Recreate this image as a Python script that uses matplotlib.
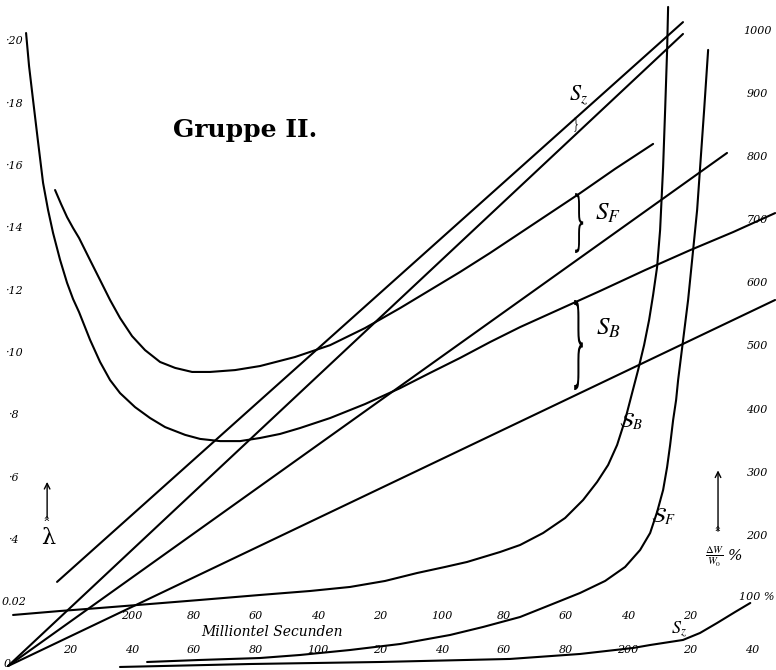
import matplotlib
matplotlib.use("Agg")
import matplotlib.pyplot as plt
from matplotlib.textpath import TextPath
from matplotlib.patches import PathPatch
from matplotlib.font_manager import FontProperties
from matplotlib.transforms import Affine2D

plt.rcParams["mathtext.fontset"] = "stix"

# time axis in millionths of a second, left scale lambda, right scale dW/W0 in %

# lambda curves (U shaped)
u1_t = [5.81, 6.77, 8.06, 9.68, 11.29, 12.90, 14.52, 16.77, 19.03, 20.97, 22.90, 26.45,
        29.68, 32.90, 36.13, 40.97, 45.81, 50.65, 57.10, 61.94, 68.39, 74.84, 81.29,
        87.74, 94.19, 103.87, 115.16, 126.45, 136.13, 145.81, 155.48, 165.16, 178.06,
        190.97, 205.48, 220.0, 233.87, 247.42]
u1_lam = [0.2032, 0.1926, 0.1817, 0.1682, 0.1551, 0.1464, 0.1390, 0.1304, 0.1230, 0.1178,
          0.1136, 0.1047, 0.0976, 0.0918, 0.0876, 0.0831, 0.0796, 0.0767, 0.0742, 0.0729,
          0.0722, 0.0722, 0.0732, 0.0745, 0.0764, 0.0796, 0.0841, 0.0892, 0.0941, 0.0989,
          0.1040, 0.1088, 0.1146, 0.1204, 0.1271, 0.1335, 0.1393, 0.1454]
u2_t = [15.16, 17.10, 19.03, 20.97, 22.90, 26.45, 29.68, 32.90, 36.13, 40.0, 44.19, 49.03,
        53.87, 59.35, 65.16, 73.23, 81.29, 92.58, 103.87, 115.16, 126.45, 136.13, 145.81,
        155.48, 165.16, 174.84, 184.52, 195.81, 208.06]
u2_lam = [0.1528, 0.1483, 0.1441, 0.1406, 0.1374, 0.1303, 0.1239, 0.1175, 0.1117, 0.1059,
          0.1014, 0.0976, 0.0957, 0.0944, 0.0944, 0.0950, 0.0963, 0.0992, 0.1030, 0.1085,
          0.1149, 0.1207, 0.1265, 0.1326, 0.1390, 0.1454, 0.1518, 0.1596, 0.1676]

# straight lambda lines
line_a_t = [15.8, 217.7]
line_a_lam = [0.0270, 0.2067]
line_b_t = [0.0, 217.7]
line_b_lam = [0.0, 0.2029]
line_c_t = [0.0, 231.9]
line_c_lam = [0.0, 0.1647]
line_d_t = [0.0, 247.4]
line_d_lam = [0.0, 0.1175]

# dW/W0 curves
sb_t = [1.61, 16.77, 29.68, 45.81, 61.94, 81.29, 97.42, 110.32, 121.61, 131.94, 140.97,
        148.06, 158.71, 165.16, 172.58, 179.68, 185.48, 190.0, 193.55, 196.45, 199.03,
        201.29, 203.23, 205.16, 206.77, 208.06, 209.35, 210.32, 211.29, 211.94, 212.58,
        212.90]
sb_w = [74.5, 80.8, 85.6, 91.9, 98.3, 106.2, 112.5, 118.9, 128.4, 141.0, 150.6, 158.5,
        174.3, 185.4, 204.4, 228.2, 256.7, 285.3, 312.2, 343.9, 383.5, 426.3, 462.8,
        502.4, 542.0, 581.6, 626.0, 684.6, 784.5, 874.8, 969.9, 1038.0]
sf_t = [44.84, 61.94, 81.29, 94.19, 110.32, 126.45, 142.58, 153.23, 165.16, 174.84, 184.52,
        192.58, 199.03, 203.87, 207.10, 209.35, 211.29, 212.58, 213.55, 214.52, 215.48,
        216.13, 217.74, 219.35, 220.97, 222.26, 223.23, 224.52, 225.81]
sf_w = [0.0, 3.2, 6.3, 11.1, 19.0, 28.5, 42.8, 55.5, 71.3, 90.3, 109.4, 128.4, 150.6,
        177.5, 204.4, 237.7, 272.6, 309.0, 343.9, 383.5, 415.2, 446.9, 510.3, 573.7,
        652.9, 716.3, 784.5, 874.8, 969.9]
sz_t = [36.1, 78.1, 120.0, 161.9, 184.5, 201.6, 207.1, 217.7, 223.2, 228.7, 234.5, 239.4]
sz_w = [-7.9, -3.2, 0.0, 4.8, 12.7, 22.2, 26.9, 34.9, 46.0, 61.8, 79.2, 93.5]

# tick labels
lam_ticks = [0.20, 0.18, 0.16, 0.14, 0.12, 0.10, 0.08, 0.06, 0.04, 0.02, 0.0]
lam_labels = ["·20", "·18", "·16", "·14", "·12", "·10", "·8", "·6", "·4", "0.02", "0"]
w_ticks = [1000, 900, 800, 700, 600, 500, 400, 300, 200]
w_labels = ["1000", "900", "800", "700", "600", "500", "400", "300", "200"]
low_ticks = [20, 40, 60, 80, 100, 120, 140, 160, 180, 200, 220, 240]
low_labels = ["20", "40", "60", "80", "100", "20", "40", "60", "80", "200", "20", "40"]
high_ticks = [200, 180, 160, 140, 120, 100, 80, 60, 40, 20]
high_labels = ["200", "80", "60", "40", "20", "100", "80", "60", "40", "20"]
t_end = 240


def brace(ax, x, y0, y1, width):
    tp = TextPath((0, 0), "}", size=1, prop=FontProperties(family="DejaVu Serif"))
    bb = tp.get_extents()
    tr = (Affine2D().translate(-bb.x0, -bb.y0)
          .scale(width / bb.width, (y1 - y0) / bb.height)
          .translate(x - width / 2, y0))
    ax.add_patch(PathPatch(tr.transform_path(tp), color="black", lw=0))


fig = plt.figure(figsize=(7.76, 6.70), dpi=100)
ax = fig.add_axes([0, 0, 1, 1])
ax.set_xlim(-2.6, 247.7)
ax.set_ylim(-0.00128, 0.2138)
ax.axis("off")
ax2 = ax.twinx()
ax2.set_ylim(-12.7, 1049)
ax2.axis("off")

lw = 1.5
for t, v in [(u1_t, u1_lam), (u2_t, u2_lam), (line_a_t, line_a_lam),
             (line_b_t, line_b_lam), (line_c_t, line_c_lam), (line_d_t, line_d_lam)]:
    ax.plot(t, v, color="black", lw=lw, solid_capstyle="round", solid_joinstyle="round")
for t, v in [(sb_t, sb_w), (sf_t, sf_w), (sz_t, sz_w)]:
    ax2.plot(t, v, color="black", lw=lw, solid_capstyle="round", solid_joinstyle="round")

hand = dict(family="DejaVu Serif", style="italic", fontsize=8, color="black")
for v, lab in zip(lam_ticks, lam_labels):
    ax.text(1.8 if lab != "0" else -0.3, v + 0.0005, lab, ha="center", va="center", **hand)
for v, lab in zip(w_ticks, w_labels):
    ax2.text(241.6, v, lab, ha="center", va="center", **hand)
ax2.text(247.2, 103, "100 %", ha="right", va="center", **hand)
for v, lab in zip(low_ticks, low_labels):
    ax.text(v, 0.0052, lab, ha="center", va="center", **hand)
for v, lab in zip(high_ticks, high_labels):
    ax.text(t_end - v, 0.0160, lab, ha="center", va="center", **hand)

ax.text(85, 0.0109, "Milliontel Secunden", ha="center", va="center",
        family="DejaVu Serif", style="italic", fontsize=10)
ax.text(76.5, 0.1721, "Gruppe II.", ha="center", va="center",
        family="DejaVu Serif", fontweight="bold", fontsize=18)

# curve labels
ax.text(183.9, 0.1833, r"$S_z$", ha="center", va="center", fontsize=16)
ax.text(193.6, 0.1454, r"$S_F$", ha="center", va="center", fontsize=18)
ax.text(193.8, 0.1085, r"$S_B$", ha="center", va="center", fontsize=18)
ax.text(200.8, 0.0783, r"$\mathcal{S}_B$", ha="center", va="center", fontsize=15)
ax.text(211.5, 0.0478, r"$\mathcal{S}_F$", ha="center", va="center", fontsize=15)
ax.text(216.3, 0.0115, r"$S_z$", ha="center", va="center", fontsize=13)
brace(ax, 184.2, 0.1326, 0.1518, 2.6)
brace(ax, 184.0, 0.0886, 0.1175, 2.8)
brace(ax, 183.2, 0.1715, 0.1760, 1.1)

# axis arrows with feathers
ax.annotate("", xy=(12.6, 0.0600), xytext=(12.6, 0.0466),
            arrowprops=dict(arrowstyle="->", lw=1.0, color="black"))
ax.text(12.6, 0.0478, "»", rotation=90, ha="center", va="center", fontsize=8)
ax.text(13.0, 0.0412, "λ", ha="center", va="center", family="DejaVu Serif", fontsize=16)

ax2.annotate("", xy=(229.0, 308), xytext=(229.0, 203),
             arrowprops=dict(arrowstyle="->", lw=1.0, color="black"))
ax2.text(229.0, 215, "»", rotation=90, ha="center", va="center", fontsize=8)
ax2.text(227.8, 166, r"$\frac{\Delta W}{W_0}$", ha="center", va="center", fontsize=11)
ax2.text(234.5, 168, "%", ha="center", va="center", family="DejaVu Serif",
         style="italic", fontsize=11)

fig.savefig("out.png", dpi=100)
